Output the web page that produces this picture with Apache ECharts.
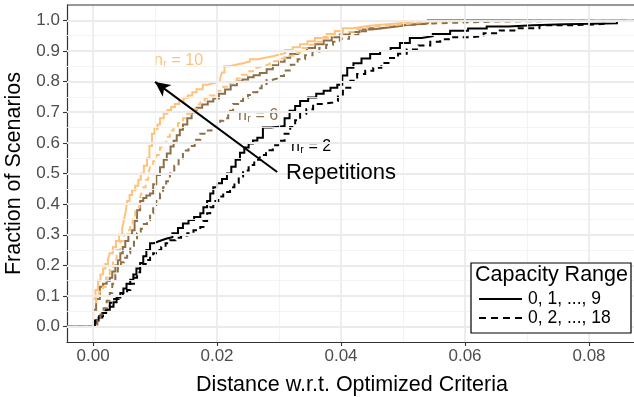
<!DOCTYPE html>
<html>
<head>
<meta charset="utf-8">
<script src="https://cdn.jsdelivr.net/npm/echarts@6/dist/echarts.min.js"></script>
<style>
html,body{margin:0;padding:0;background:#fff;}
#chart{width:634px;height:397px;}
</style>
</head>
<body>
<div id="chart"></div>
<script>
// ---- data (ECDF knots: x = distance, y = fraction) ----
const xTicks = [0, 0.02, 0.04, 0.06, 0.08];
const yTicks = [0, 0.1, 0.2, 0.3, 0.4, 0.5, 0.6, 0.7, 0.8, 0.9, 1.0];
const xMinorGrid = [0.01, 0.03, 0.05, 0.07];
const yMinorGrid = [0.05, 0.15, 0.25, 0.35, 0.45, 0.55, 0.65, 0.75, 0.85, 0.95];

// n_r = 10, capacity 0,1,...,9 (solid)
const xS10 = [0, 0.0004, 0.0008, 0.0012, 0.0016, 0.002, 0.0024, 0.0027, 0.0032, 0.0037, 0.0042, 0.0047, 0.005, 0.0053, 0.0055, 0.0059, 0.0063, 0.0068, 0.0073, 0.0077, 0.0082, 0.0087, 0.0091, 0.0095, 0.0099, 0.0104, 0.0108, 0.0114, 0.012, 0.0126, 0.0132, 0.0139, 0.0146, 0.0153, 0.016, 0.0167, 0.0177, 0.0185, 0.0195, 0.0205, 0.0208, 0.0212, 0.022, 0.023, 0.0242, 0.0253, 0.0265, 0.0278, 0.029, 0.030, 0.031, 0.0322, 0.0334, 0.0346, 0.0358, 0.0368, 0.0377, 0.039, 0.0403, 0.042, 0.0435, 0.045, 0.0475, 0.049, 0.0506, 0.052];
const yS10 = [0.09, 0.12, 0.15, 0.17, 0.19, 0.205, 0.22, 0.24, 0.26, 0.28, 0.30, 0.32, 0.35, 0.38, 0.41, 0.43, 0.445, 0.46, 0.48, 0.50, 0.525, 0.55, 0.59, 0.63, 0.645, 0.66, 0.68, 0.695, 0.707, 0.717, 0.727, 0.737, 0.747, 0.755, 0.765, 0.775, 0.79, 0.795, 0.80, 0.81, 0.83, 0.85, 0.855, 0.86, 0.866, 0.873, 0.878, 0.883, 0.888, 0.893, 0.903, 0.912, 0.922, 0.932, 0.942, 0.948, 0.955, 0.965, 0.974, 0.979, 0.983, 0.987, 0.99, 0.993, 0.997, 1.0];
// n_r = 10, capacity 0,2,...,18 (dashed)
const xD10 = [0, 0.0005, 0.001, 0.0016, 0.0021, 0.0027, 0.0032, 0.0038, 0.0044, 0.005, 0.0055, 0.006, 0.0064, 0.0068, 0.0071, 0.0075, 0.0078, 0.0081, 0.0085, 0.0089, 0.0092, 0.0097, 0.0102, 0.0108, 0.0113, 0.0118, 0.0124, 0.013, 0.0137, 0.0145, 0.0152, 0.016, 0.0167, 0.0173, 0.018, 0.0188, 0.02, 0.021, 0.0221, 0.0232, 0.024, 0.0249, 0.0258, 0.0266, 0.0274, 0.0285, 0.0298, 0.031, 0.0323, 0.0334, 0.0345, 0.0357, 0.0372, 0.0387, 0.0402, 0.042, 0.0442, 0.046, 0.048, 0.0506, 0.053, 0.055];
const yD10 = [0.08, 0.10, 0.115, 0.13, 0.16, 0.195, 0.22, 0.25, 0.28, 0.30, 0.315, 0.325, 0.35, 0.375, 0.39, 0.415, 0.435, 0.455, 0.48, 0.50, 0.52, 0.54, 0.56, 0.585, 0.60, 0.62, 0.64, 0.652, 0.665, 0.68, 0.695, 0.71, 0.725, 0.737, 0.745, 0.755, 0.77, 0.783, 0.797, 0.81, 0.822, 0.834, 0.845, 0.851, 0.857, 0.866, 0.875, 0.884, 0.893, 0.91, 0.92, 0.93, 0.943, 0.955, 0.963, 0.972, 0.98, 0.984, 0.988, 0.994, 0.997, 1.0];
// n_r = 6 solid
const xS6 = [0, 0.0005, 0.0011, 0.0016, 0.0022, 0.0027, 0.0031, 0.0036, 0.004, 0.0044, 0.0048, 0.0052, 0.0057, 0.0063, 0.0067, 0.0071, 0.0076, 0.0081, 0.0086, 0.0092, 0.0097, 0.0102, 0.0108, 0.0114, 0.0119, 0.0125, 0.013, 0.0135, 0.014, 0.0145, 0.0152, 0.0159, 0.0167, 0.0176, 0.0185, 0.0194, 0.0203, 0.0213, 0.0222, 0.0232, 0.0241, 0.025, 0.0259, 0.0269, 0.028, 0.029, 0.030, 0.0309, 0.0318, 0.0331, 0.0345, 0.0358, 0.0372, 0.0385, 0.0398, 0.0414, 0.043, 0.045, 0.047, 0.049, 0.0506, 0.054];
const yS6 = [0.055, 0.09, 0.13, 0.14, 0.15, 0.16, 0.18, 0.20, 0.217, 0.24, 0.26, 0.28, 0.30, 0.315, 0.345, 0.38, 0.41, 0.42, 0.428, 0.435, 0.465, 0.495, 0.52, 0.545, 0.565, 0.588, 0.607, 0.625, 0.643, 0.66, 0.68, 0.70, 0.715, 0.725, 0.735, 0.745, 0.76, 0.774, 0.788, 0.80, 0.807, 0.814, 0.821, 0.828, 0.84, 0.853, 0.865, 0.878, 0.89, 0.90, 0.91, 0.922, 0.934, 0.945, 0.954, 0.962, 0.97, 0.975, 0.98, 0.985, 0.99, 1.0];
// n_r = 6 dashed
const xD6 = [0.0007, 0.0012, 0.0017, 0.0022, 0.0027, 0.0031, 0.0036, 0.004, 0.0045, 0.005, 0.0055, 0.006, 0.0066, 0.0071, 0.0077, 0.0082, 0.0087, 0.0092, 0.0097, 0.0102, 0.0108, 0.0113, 0.0118, 0.0124, 0.0131, 0.0138, 0.0145, 0.0154, 0.0164, 0.0173, 0.0182, 0.0191, 0.02, 0.0205, 0.021, 0.0218, 0.0226, 0.0234, 0.0242, 0.025, 0.0258, 0.0265, 0.0272, 0.028, 0.0288, 0.0297, 0.0308, 0.0319, 0.033, 0.0342, 0.0354, 0.0365, 0.0376, 0.0387, 0.0398, 0.0413, 0.0428, 0.0442, 0.0463, 0.0485, 0.0506, 0.055, 0.06, 0.065];
const yD6 = [0.02, 0.04, 0.06, 0.085, 0.11, 0.14, 0.17, 0.195, 0.21, 0.225, 0.24, 0.26, 0.285, 0.305, 0.32, 0.335, 0.347, 0.37, 0.39, 0.41, 0.435, 0.455, 0.475, 0.50, 0.525, 0.55, 0.575, 0.59, 0.61, 0.63, 0.64, 0.652, 0.665, 0.672, 0.68, 0.705, 0.727, 0.737, 0.747, 0.756, 0.765, 0.778, 0.792, 0.805, 0.81, 0.818, 0.836, 0.855, 0.873, 0.886, 0.898, 0.91, 0.92, 0.93, 0.94, 0.952, 0.964, 0.974, 0.98, 0.985, 0.99, 0.993, 0.996, 1.0];
// n_r = 2 solid
const xS2 = [0.0003, 0.0009, 0.0015, 0.0021, 0.0027, 0.0033, 0.0038, 0.0044, 0.0049, 0.0054, 0.006, 0.0065, 0.007, 0.0076, 0.0081, 0.0086, 0.0092, 0.0098, 0.0105, 0.0112, 0.0119, 0.0128, 0.0137, 0.0145, 0.0154, 0.0163, 0.0173, 0.0178, 0.0184, 0.0189, 0.0194, 0.02, 0.0208, 0.0216, 0.0223, 0.023, 0.0237, 0.0244, 0.0251, 0.0258, 0.0265, 0.0274, 0.0287, 0.030, 0.0309, 0.0317, 0.0326, 0.0334, 0.0347, 0.036, 0.0372, 0.0383, 0.0394, 0.0402, 0.041, 0.042, 0.0433, 0.0447, 0.0463, 0.048, 0.0495, 0.0511, 0.053, 0.0548, 0.0576, 0.0605, 0.0635, 0.067, 0.071, 0.076, 0.0845];
const yS2 = [0.02, 0.03, 0.045, 0.055, 0.065, 0.08, 0.095, 0.11, 0.125, 0.14, 0.153, 0.17, 0.19, 0.208, 0.23, 0.25, 0.272, 0.278, 0.283, 0.288, 0.292, 0.305, 0.322, 0.337, 0.348, 0.358, 0.37, 0.39, 0.41, 0.435, 0.455, 0.468, 0.482, 0.5, 0.522, 0.545, 0.568, 0.585, 0.598, 0.608, 0.617, 0.65, 0.653, 0.655, 0.68, 0.705, 0.72, 0.737, 0.748, 0.76, 0.77, 0.78, 0.79, 0.82, 0.845, 0.86, 0.875, 0.89, 0.90, 0.91, 0.926, 0.942, 0.948, 0.955, 0.966, 0.973, 0.98, 0.984, 0.987, 0.99, 1.0];
// n_r = 2 dashed
const xD2 = [0.0005, 0.001, 0.0016, 0.0022, 0.0027, 0.0034, 0.0041, 0.0048, 0.0055, 0.006, 0.0066, 0.0071, 0.0076, 0.0081, 0.0087, 0.0092, 0.0097, 0.0104, 0.011, 0.0117, 0.0124, 0.0133, 0.0142, 0.0152, 0.0162, 0.0173, 0.0178, 0.0184, 0.0189, 0.0194, 0.0202, 0.021, 0.0221, 0.0228, 0.0235, 0.0242, 0.0251, 0.026, 0.0269, 0.0279, 0.029, 0.030, 0.0309, 0.0318, 0.0326, 0.0334, 0.0344, 0.0355, 0.0371, 0.0387, 0.0395, 0.0403, 0.0415, 0.0426, 0.0439, 0.0452, 0.0465, 0.0479, 0.0492, 0.0506, 0.0525, 0.0544, 0.056, 0.0576, 0.0608, 0.063, 0.0656, 0.0684, 0.072, 0.0774, 0.0813, 0.083];
const yD2 = [0.02, 0.035, 0.05, 0.065, 0.078, 0.09, 0.1, 0.11, 0.12, 0.14, 0.16, 0.178, 0.195, 0.205, 0.218, 0.23, 0.24, 0.25, 0.26, 0.272, 0.282, 0.29, 0.298, 0.305, 0.315, 0.325, 0.345, 0.37, 0.39, 0.41, 0.425, 0.44, 0.455, 0.47, 0.49, 0.51, 0.528, 0.545, 0.56, 0.576, 0.592, 0.607, 0.63, 0.652, 0.674, 0.695, 0.71, 0.727, 0.732, 0.737, 0.758, 0.78, 0.803, 0.825, 0.835, 0.845, 0.861, 0.877, 0.891, 0.905, 0.918, 0.93, 0.938, 0.945, 0.948, 0.958, 0.967, 0.974, 0.984, 0.987, 0.99, 1.0];

const arrowFrom = [0.0297, 0.505];
const arrowTo = [0.0100, 0.799];

// ---- styling ----
const FONT = 'Liberation Sans, Arial, Helvetica, sans-serif';
const C10 = '#FFC27B', C6 = '#8C7049', C2 = '#000000';
const X_MIN = -0.0042, X_MAX = 0.08774, Y_MIN = -0.05, Y_MAX = 1.05;

function ecdf(xs, ys) {
  const d = [[X_MIN, 0]];
  for (let i = 0; i < xs.length; i++) d.push([xs[i], ys[i]]);
  d.push([X_MAX, 1]);
  return d;
}
function lineSeries(name, xs, ys, color, dashed) {
  return {
    name, type: 'line', step: 'end', data: ecdf(xs, ys), symbol: 'none', z: 3,
    silent: true, animation: false,
    lineStyle: { color, width: 2, type: dashed ? [6, 4.5] : 'solid', cap: 'butt', join: 'miter' }
  };
}
const gridLines = [];
xTicks.forEach(v => gridLines.push({ xAxis: v, lineStyle: { color: '#EBEBEB', width: 1.8, type: 'solid' } }));
xMinorGrid.forEach(v => gridLines.push({ xAxis: v, lineStyle: { color: '#F2F2F2', width: 0.9, type: 'solid' } }));
yTicks.forEach(v => gridLines.push({ yAxis: v, lineStyle: { color: '#EBEBEB', width: 1.8, type: 'solid' } }));
yMinorGrid.forEach(v => gridLines.push({ yAxis: v, lineStyle: { color: '#F2F2F2', width: 0.9, type: 'solid' } }));

function subLabel(x, y, tail, color) {
  return {
    type: 'group', x: x, y: y - 9.5, z: 10, children: [
      { type: 'text', x: 0, y: 0, style: { text: 'n', font: '16px ' + FONT, fill: color, textVerticalAlign: 'top' } },
      { type: 'text', x: 9.2, y: 6.5, style: { text: 'r', font: '10.5px ' + FONT, fill: color, textVerticalAlign: 'top' } },
      { type: 'text', x: 17.5, y: 0, style: { text: '= ' + tail, font: '16px ' + FONT, fill: color, textVerticalAlign: 'top' } }
    ]
  };
}

const chart = echarts.init(document.getElementById('chart'), null, { renderer: 'canvas' });
chart.setOption({
  animation: false,
  backgroundColor: '#fff',
  textStyle: { fontFamily: FONT },
  grid: { left: 67, right: -3, top: 5, bottom: 55, show: false, containLabel: false, outerBoundsMode: 'none' },
  xAxis: {
    type: 'value', min: X_MIN, max: X_MAX,
    name: 'Distance w.r.t. Optimized Criteria', nameLocation: 'middle', nameGap: 32,
    nameTextStyle: { fontSize: 21.5, color: '#000', fontFamily: FONT },
    axisLine: { show: true, onZero: false, lineStyle: { color: '#333', width: 1.2 } },
    axisTick: { show: true, length: 4, customValues: xTicks, lineStyle: { color: '#333', width: 1.1 } },
    axisLabel: { customValues: xTicks, margin: 6, fontSize: 17, color: '#4D4D4D', fontFamily: FONT,
      formatter: v => v.toFixed(2) },
    splitLine: { show: false }
  },
  yAxis: {
    type: 'value', min: Y_MIN, max: Y_MAX,
    name: 'Fraction of Scenarios', nameLocation: 'middle', nameGap: 38,
    nameTextStyle: { fontSize: 21.5, color: '#000', fontFamily: FONT },
    axisLine: { show: true, onZero: false, lineStyle: { color: '#333', width: 1.2 } },
    axisTick: { show: true, length: 4, customValues: yTicks, lineStyle: { color: '#333', width: 1.1 } },
    axisLabel: { customValues: yTicks, margin: 7, fontSize: 17, color: '#4D4D4D', fontFamily: FONT,
      formatter: v => v.toFixed(1) },
    splitLine: { show: false }
  },
  series: [
    { name: 'grid', type: 'line', data: [], z: 1, silent: true,
      markLine: { silent: true, symbol: ['none', 'none'], label: { show: false }, animation: false, data: gridLines } },
    lineSeries('s2', xS2, yS2, C2, false),
    lineSeries('d2', xD2, yD2, C2, true),
    lineSeries('s6', xS6, yS6, C6, false),
    lineSeries('d6', xD6, yD6, C6, true),
    lineSeries('d10', xD10, yD10, C10, true),
    lineSeries('s10', xS10, yS10, C10, false),
    { name: 'arrow', type: 'line', data: [], z: 5, silent: true,
      markLine: { silent: true, symbol: ['none', 'arrow'], symbolSize: [11, 15], label: { show: false }, animation: false,
        lineStyle: { color: '#000', width: 2, type: 'solid' },
        data: [[{ coord: arrowFrom }, { coord: arrowTo }]] } }
  ],
  graphic: [
    { type: 'line', shape: { x1: 67, y1: 5, x2: 634, y2: 5 }, style: { stroke: '#333', lineWidth: 1.2 }, z: 10 },
    subLabel(154, 62, '10', C10),
    subLabel(238, 117, '6', C6),
    subLabel(291, 148, '2', C2),
    { type: 'text', x: 286, y: 173, style: { text: 'Repetitions', font: '22px ' + FONT, fill: '#000', textVerticalAlign: 'middle' }, z: 10 },
    { type: 'rect', shape: { x: 471, y: 263, width: 160, height: 70 }, style: { fill: '#fff', stroke: '#000', lineWidth: 1.2 }, z: 20 },
    { type: 'text', x: 475, y: 275, style: { text: 'Capacity Range', font: '21.5px ' + FONT, fill: '#000', textVerticalAlign: 'middle' }, z: 21 },
    { type: 'line', shape: { x1: 479, y1: 299, x2: 522, y2: 299 }, style: { stroke: '#000', lineWidth: 2 }, z: 21 },
    { type: 'text', x: 528, y: 299, style: { text: '0, 1, ..., 9', font: '17.5px ' + FONT, fill: '#000', textVerticalAlign: 'middle' }, z: 21 },
    { type: 'line', shape: { x1: 479, y1: 318, x2: 522, y2: 318 }, style: { stroke: '#000', lineWidth: 2, lineDash: [7, 5] }, z: 21 },
    { type: 'text', x: 528, y: 318, style: { text: '0, 2, ..., 18', font: '17.5px ' + FONT, fill: '#000', textVerticalAlign: 'middle' }, z: 21 }
  ]
});
</script>
</body>
</html>
